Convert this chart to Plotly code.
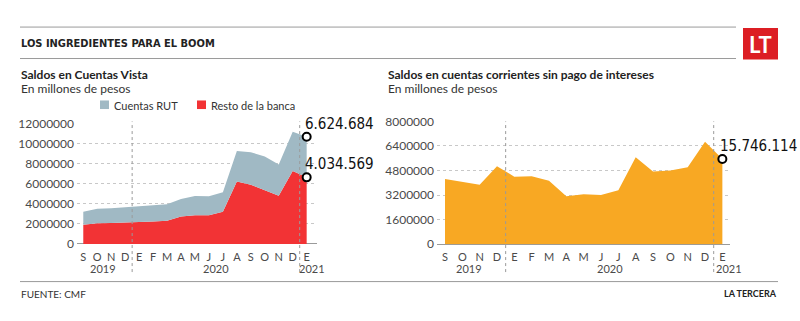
import plotly.graph_objects as go

# Month axis shared by both panels (Sep 2019 .. Jan 2021)
months = ["S", "O", "N", "D", "E", "F", "M", "A", "M", "J", "J", "A", "S", "O", "N", "D", "E"]
year_labels = ["2019", "2020", "2021"]
year_pos = [1.4, 9.5, 16.4]

# Saldos en Cuentas Vista (pesos, millones)
resto_banca = [1920000, 2050000, 2080000, 2110000, 2180000, 2240000, 2300000, 2720000, 2850000,
               2850000, 3200000, 6210000, 5890000, 5340000, 4800000, 7260000, 6624684]
cuentas_rut = [1280000, 1440000, 1470000, 1540000, 1630000, 1630000, 1640000, 1760000, 1920000,
               1890000, 1950000, 3040000, 3230000, 3360000, 3100000, 3910000, 4034569]

# Saldos en cuentas corrientes sin pago de intereses
corrientes = [4250000, 4080000, 3870000, 5080000, 4400000, 4420000, 4130000, 3130000, 3260000,
              3200000, 3510000, 5670000, 4740000, 4800000, 5020000, 6670000, 5550000]

left_ticks = [0, 2000000, 4000000, 6000000, 8000000, 10000000, 12000000]
right_ticks = [0, 1600000, 3200000, 4800000, 6400000, 8000000]

label_rut = "6.624.684"
label_resto = "4.034.569"
label_corr = "15.746.114"

W, H = 800, 321
C_RUT = "#a0b9c4"
C_RED = "#f23335"
C_ORANGE = "#f8a823"
TXT = "#222222"
AX = "#4a4a4a"
FONT = "Lato, 'Open Sans', sans-serif"
NARROW = "'DejaVu Sans Condensed', 'Liberation Sans Narrow', sans-serif"


def px(x):
    return x / W


def py(y):
    return 1 - y / H


idx = list(range(len(months)))

fig = go.Figure()
fig.add_trace(go.Scatter(x=idx, y=resto_banca, stackgroup="a", mode="lines",
                         line=dict(width=0), fillcolor=C_RED, name="Resto de la banca",
                         xaxis="x", yaxis="y", hoverinfo="skip"))
fig.add_trace(go.Scatter(x=idx, y=cuentas_rut, stackgroup="a", mode="lines",
                         line=dict(width=0), fillcolor=C_RUT, name="Cuentas RUT",
                         xaxis="x", yaxis="y", hoverinfo="skip"))
fig.add_trace(go.Scatter(x=idx, y=corrientes, fill="tozeroy", mode="lines",
                         line=dict(width=0), fillcolor=C_ORANGE, name="Cuentas corrientes",
                         xaxis="x2", yaxis="y2", hoverinfo="skip"))

# End-point markers
last = len(months) - 1
total_last = resto_banca[last] + cuentas_rut[last]
marker = dict(size=8, color="white", line=dict(color="black", width=2))
fig.add_trace(go.Scatter(x=[last, last], y=[total_last, resto_banca[last]], mode="markers",
                         marker=marker, xaxis="x", yaxis="y", cliponaxis=False, hoverinfo="skip"))
fig.add_trace(go.Scatter(x=[last], y=[corrientes[last]], mode="markers",
                         marker=marker, xaxis="x2", yaxis="y2", cliponaxis=False, hoverinfo="skip"))

common_x = dict(tickmode="array", tickvals=idx, ticktext=months, showgrid=False,
                zeroline=False, showline=False, ticks="", fixedrange=True,
                ticklabelstandoff=5,
                tickfont=dict(family=FONT, size=11, color=AX))
common_y = dict(showgrid=True, griddash="dot", gridcolor="#c8c8c8", gridwidth=1,
                zeroline=True, zerolinecolor="#9a9a9a", zerolinewidth=1,
                tickformat="d", ticks="", showline=False, fixedrange=True,
                ticklabelstandoff=2,
                tickfont=dict(family=FONT, size=12, color=AX))

fig.update_layout(
    width=W, height=H, margin=dict(l=0, r=0, t=0, b=0),
    paper_bgcolor="white", plot_bgcolor="white", showlegend=False,
    xaxis=dict(domain=[px(77), px(317)], range=[-0.45, 16.74], anchor="y", **common_x),
    yaxis=dict(domain=[py(247.5), py(121)], range=[0, 12000000], anchor="x",
               tickvals=left_ticks, **common_y),
    xaxis2=dict(domain=[px(437), px(730)], range=[-0.46, 16.44], anchor="y2", **common_x),
    yaxis2=dict(domain=[py(247.7), py(119)], range=[0, 8000000], anchor="x2",
                tickvals=right_ticks, **common_y),
)

shapes = []
# header and footer rules
shapes.append(dict(type="line", xref="paper", yref="paper", x0=px(20), x1=px(736),
                   y0=py(20), y1=py(20), line=dict(color="#9a9a9a", width=1)))
shapes.append(dict(type="line", xref="paper", yref="paper", x0=px(20), x1=px(736),
                   y0=py(53), y1=py(53), line=dict(color="#9a9a9a", width=1)))
shapes.append(dict(type="line", xref="paper", yref="paper", x0=px(20), x1=px(778),
                   y0=py(287), y1=py(287), line=dict(color="#9a9a9a", width=1)))
# logo box
shapes.append(dict(type="rect", xref="paper", yref="paper", x0=px(743), x1=px(778),
                   y0=py(54), y1=py(21), fillcolor="#dc1e24", line=dict(width=0)))
# year separators
for xa in ["x", "x2"]:
    for xv in [3.5, 15.5]:
        shapes.append(dict(type="line", xref=xa, yref="paper", x0=xv, x1=xv,
                           y0=py(277), y1=py(119), layer="above",
                           line=dict(color="#9a9a9a", width=1, dash="dot")))
# legend swatches
shapes.append(dict(type="rect", xref="paper", yref="paper", x0=px(100), x1=px(109),
                   y0=py(106), y1=py(97), fillcolor=C_RUT, line=dict(width=0)))
shapes.append(dict(type="rect", xref="paper", yref="paper", x0=px(197), x1=px(206),
                   y0=py(106), y1=py(97), fillcolor=C_RED, line=dict(width=0)))
fig.update_layout(shapes=shapes)

ann = []


def text(x, y, s, size, color=TXT, family=FONT, anchor="left", bold=False):
    ann.append(dict(xref="paper", yref="paper", x=px(x), y=py(y), text=f"<b>{s}</b>" if bold else s,
                    showarrow=False, xanchor=anchor, yanchor="middle",
                    font=dict(family=family, size=size, color=color)))


text(19, 37, "LOS INGREDIENTES PARA EL BOOM", 11, family=NARROW, bold=True)
text(760.5, 38, "LT", 22, color="white", family=FONT, anchor="center", bold=True)
text(19, 70, "Saldos en Cuentas Vista", 12, bold=True)
text(19, 84, "En millones de pesos", 12, color="#333333")
text(386, 70, "Saldos en cuentas corrientes sin pago de intereses", 12, bold=True)
text(386, 84, "En millones de pesos", 12, color="#333333")
text(112, 102, "Cuentas RUT", 11, color="#333333")
text(209, 102, "Resto de la banca", 11, color="#333333")
text(19, 300, "FUENTE: CMF", 10, color="#333333")
text(779, 300, "LA TERCERA", 9, anchor="right", bold=True)

for xa, ya in [("x", "y"), ("x2", "y2")]:
    for yl, yp in zip(year_labels, year_pos):
        ann.append(dict(xref=xa, yref="paper", x=yp, y=py(273), text=yl, showarrow=False,
                        xanchor="center", yanchor="middle",
                        font=dict(family=FONT, size=11, color=AX)))

# value labels at the last month
for xa, ya, yv, s in [("x", "y", total_last, label_rut), ("x", "y", resto_banca[last], label_resto),
                      ("x2", "y2", corrientes[last], label_corr)]:
    ann.append(dict(xref=xa, yref=ya, x=last, y=yv, text=s, showarrow=False,
                    xanchor="left", yanchor="bottom", xshift=-4, yshift=2,
                    font=dict(family=NARROW, size=15, color="#111111")))

fig.update_layout(annotations=ann)
fig.write_html("out.html")
